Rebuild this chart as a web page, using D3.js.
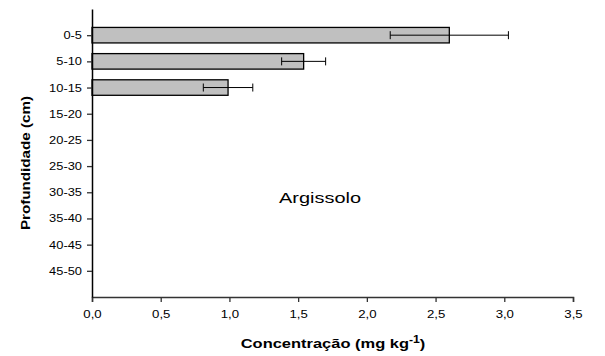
<!DOCTYPE html>
<html>
<head>
<meta charset="utf-8">
<script src="https://cdn.jsdelivr.net/npm/d3@7"></script>
<style>
  body { margin: 0; background: #fff; }
  text { font-family: 'Liberation Sans', Arial, sans-serif; }
</style>
</head>
<body>
<div id="chart"></div>
<script>
// Profundidades (categorias) e concentrações médias com desvio
const depths = ['0-5', '5-10', '10-15', '15-20', '20-25', '25-30', '30-35', '35-40', '40-45', '45-50']
const means  = [2.60, 1.54, 0.99]
const errors = [0.43, 0.16, 0.18]
const xTicks = [0, 0.5, 1, 1.5, 2, 2.5, 3, 3.5]

const width = 605, height = 356
const m = { left: 92, right: 32, top: 9, bottom: 59 }
const innerW = width - m.left - m.right
const innerH = height - m.top - m.bottom
const FONT = "'Liberation Sans', Arial, sans-serif"

const svg = d3.select('#chart').append('svg')
  .attr('width', width).attr('height', height)

const g = svg.append('g').attr('transform', `translate(${m.left},${m.top})`)

const x = d3.scaleLinear().domain([0, 3.5]).range([0, innerW])
const y = d3.scalePoint().domain(depths).range([0, innerH]).padding(1)

const bars = depths.slice(0, means.length).map((d, i) => ({ depth: d, v: means[i], e: errors[i] }))
const barH = 15.5

// Barras
g.selectAll('rect.bar')
  .data(bars)
  .join('rect')
  .attr('class', 'bar')
  .attr('x', 0)
  .attr('y', d => y(d.depth) - barH / 2)
  .attr('width', d => x(d.v))
  .attr('height', barH)
  .attr('fill', '#c0c0c0')
  .attr('stroke', '#000')
  .attr('stroke-width', 1.3)

// Barras de erro
const eb = g.selectAll('g.err').data(bars).join('g').attr('class', 'err')
eb.append('line')
  .attr('x1', d => x(d.v - d.e)).attr('x2', d => x(d.v + d.e))
  .attr('y1', d => y(d.depth)).attr('y2', d => y(d.depth))
  .attr('stroke', '#000').attr('stroke-width', 1)
eb.selectAll('line.cap')
  .data(d => [d.v - d.e, d.v + d.e].map(val => ({ val, depth: d.depth })))
  .join('line')
  .attr('class', 'cap')
  .attr('x1', d => x(d.val)).attr('x2', d => x(d.val))
  .attr('y1', d => y(d.depth) - 4).attr('y2', d => y(d.depth) + 4)
  .attr('stroke', '#000').attr('stroke-width', 1)

// Eixo X
g.append('g')
  .attr('transform', `translate(0,${innerH})`)
  .call(d3.axisBottom(x).tickValues(xTicks).tickSize(5).tickPadding(8)
    .tickFormat(d => d3.format('.1f')(d).replace('.', ',')))
  .call(a => a.select('.domain').attr('stroke', '#333').attr('stroke-width', 1.5))
  .call(a => a.selectAll('.tick line').attr('stroke', '#333').attr('stroke-width', 1.3))
  .call(a => a.selectAll('.tick text').attr('fill', '#000').attr('font-size', 11)
    .attr('transform', 'scale(1.2,1)')
    .style('font-family', FONT))

// Eixo Y
g.append('g')
  .call(d3.axisLeft(y).tickSize(5).tickPadding(4).tickSizeOuter(0))
  .call(a => a.select('.domain').attr('stroke', '#000').attr('stroke-width', 1.5))
  .call(a => a.selectAll('.tick line').attr('stroke', '#333').attr('stroke-width', 1.3))
  .call(a => a.selectAll('.tick text').attr('fill', '#000').attr('font-size', 11)
    .attr('x', -10 / 1.17).attr('transform', 'scale(1.17,1)')
    .style('font-family', FONT))

// Título eixo X
const xt = svg.append('text')
  .attr('transform', 'translate(333,348) scale(1.22,1)')
  .attr('text-anchor', 'middle')
  .attr('font-size', 13.5).attr('font-weight', 'bold')
xt.append('tspan').text('Concentração (mg kg')
xt.append('tspan').attr('dy', -5).attr('font-size', 10).text('-1')
xt.append('tspan').attr('dy', 5).text(')')

// Título eixo Y
svg.append('text')
  .attr('transform', 'translate(30,163) rotate(-90) scale(1.17,1)')
  .attr('text-anchor', 'middle')
  .attr('font-size', 13).attr('font-weight', 'bold')
  .text('Profundidade (cm)')

// Rótulo do solo
svg.append('text')
  .attr('transform', 'translate(320,203) scale(1.33,1)')
  .attr('text-anchor', 'middle')
  .attr('font-size', 15)
  .text('Argissolo')
</script>
</body>
</html>
